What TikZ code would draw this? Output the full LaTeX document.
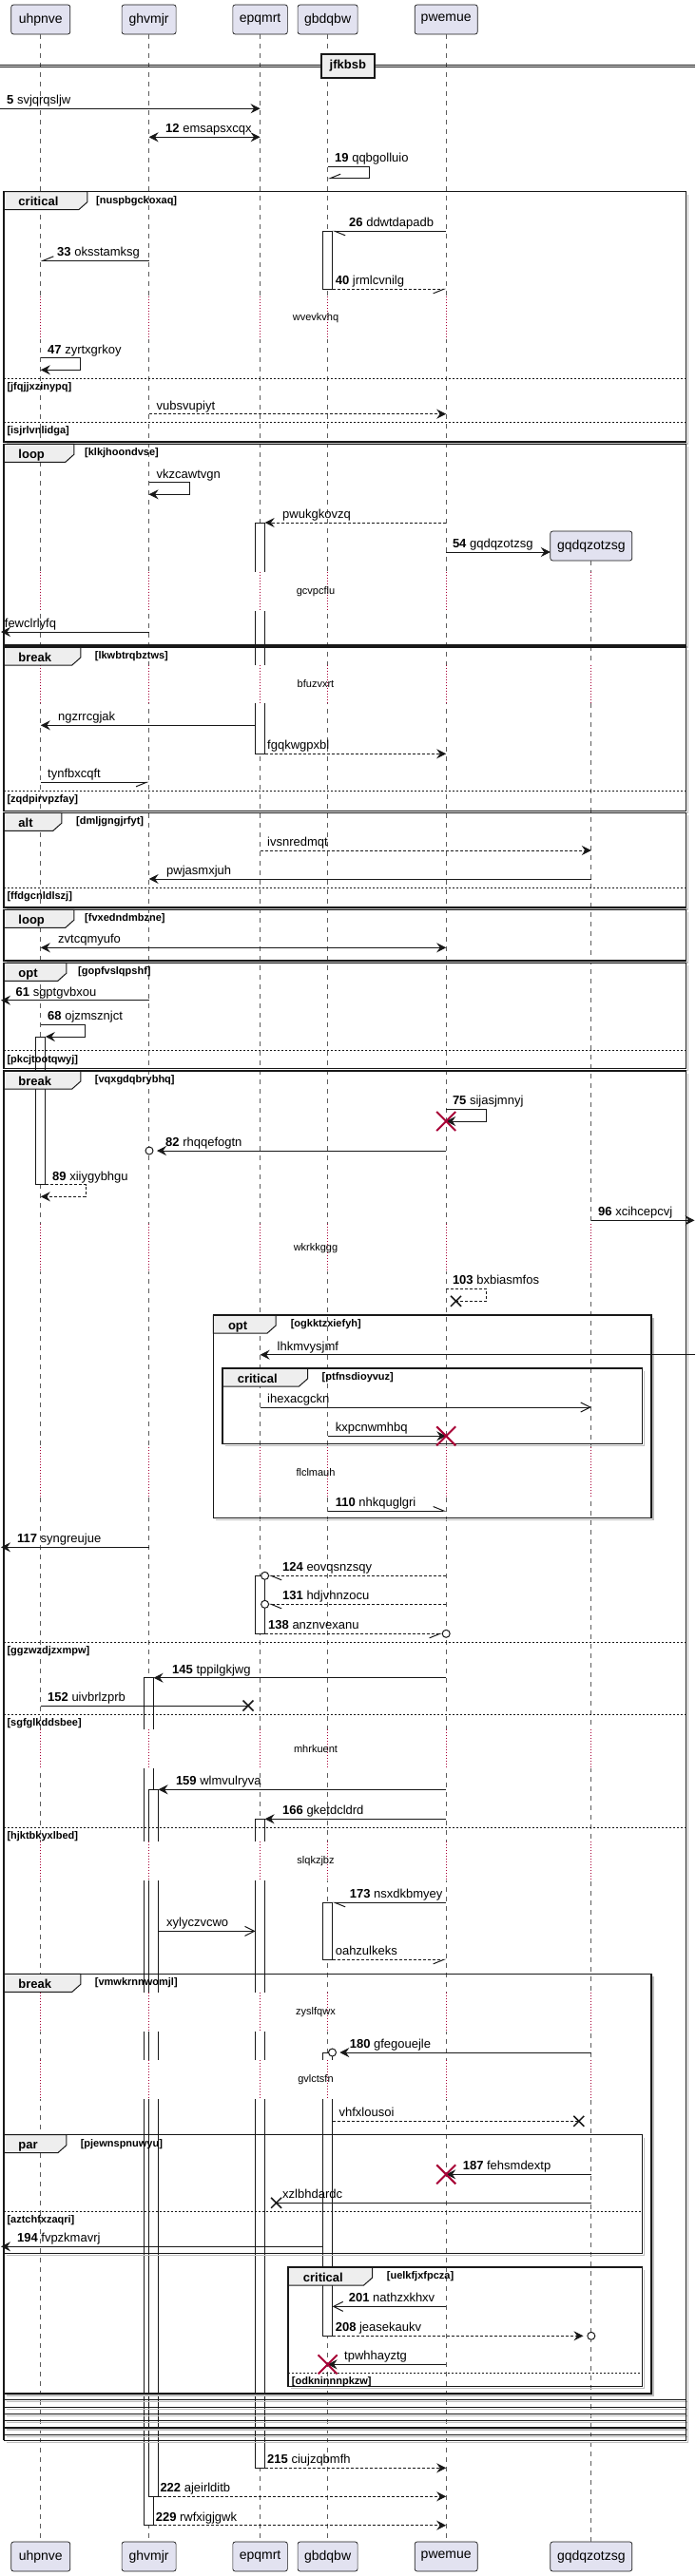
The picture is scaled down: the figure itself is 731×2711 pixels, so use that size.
\documentclass[tikz,border=0pt]{standalone}
\usepackage{fontspec}
\setmainfont{Liberation Sans}
\usetikzlibrary{arrows.meta}

\definecolor{partfill}{HTML}{E2E2F0}
\definecolor{ink}{HTML}{181818}
\definecolor{tabfill}{HTML}{EEEEEE}
\definecolor{deathred}{HTML}{A80036}

% lifeline positions
\def\xU{42.8}
\def\xG{156.6}
\def\xE{273.6}
\def\xB{344.6}
\def\xP{469.2}
\def\xQ{621.8}

\tikzset{
  participant/.style={draw=ink, fill=partfill, rounded corners=2.5pt, line width=0.7pt,
    minimum height=31pt, inner sep=0pt, font=\fontsize{14}{16}\selectfont},
  lifeline/.style={draw=ink!70, line width=0.7pt, dash pattern=on 5pt off 5pt},
  actbox/.style={draw=ink, fill=white, line width=0.8pt},
  delayline/.style={draw=deathred, line width=0.8pt, dash pattern=on 1pt off 2pt},
  delaytext/.style={font=\fontsize{11}{13}\selectfont, inner sep=0pt},
  msg/.style={draw=ink, line width=1pt},
  reply/.style={msg, dash pattern=on 3pt off 2pt},
  hd/.style={-{Stealth[length=10pt,width=10pt,inset=3.5pt]}},
  hdboth/.style={{Stealth[length=10pt,width=10pt,inset=3.5pt]}-{Stealth[length=10pt,width=10pt,inset=3.5pt]}},
  openhd/.style={-{Straight Barb[length=10pt,width=10pt]}},
  barbL/.style={-{Straight Barb[left,length=11pt,width=9pt]}},
  barbR/.style={-{Straight Barb[right,length=11pt,width=9pt]}},
  lbl/.style={font=\fontsize{13}{15}\selectfont, inner sep=0pt, anchor=base west},
  frameline/.style={draw=ink, line width=1.5pt},
  frameshadow/.style={draw=black!25, line width=1.5pt},
  tabbox/.style={draw=ink, fill=tabfill, line width=1pt},
  tablabel/.style={font=\bfseries\fontsize{13}{15}\selectfont, inner sep=0pt, anchor=base west},
  condtext/.style={font=\bfseries\fontsize{11}{13}\selectfont, inner sep=0pt, anchor=mid west},
  sepline/.style={draw=ink, line width=1pt, dash pattern=on 2pt off 2pt},
  lostmark/.style={draw=ink, line width=1.5pt},
  killmark/.style={draw=deathred, line width=2pt},
  endring/.style={draw=ink, line width=1pt, fill=white},
  divbox/.style={draw=ink, fill=tabfill, line width=1.5pt, minimum width=56pt,
    minimum height=25pt, inner sep=0pt, font=\bfseries\fontsize{13}{15}\selectfont},
}

\newcommand{\mlbl}[4]{\node[lbl] (#1) at (#2,#3-4.5) {#4};}
\newcommand{\actbar}[3]{\filldraw[actbox] (#1-5,#2) rectangle (#1+5,#3);}
\newcommand{\redx}[2]{\draw[killmark] (#1-10,#2-10) -- (#1+10,#2+10) (#1-10,#2+10) -- (#1+10,#2-10);}
\newcommand{\lostx}[2]{\draw[lostmark] (#1-5.5,#2-5.5) -- (#1+5.5,#2+5.5) (#1-5.5,#2+5.5) -- (#1+5.5,#2-5.5);}
\newcommand{\dlay}[5]{%
  \foreach \xx in {#5}{%
    \fill[white] (\xx-12,#2) rectangle (\xx+12,#3);
    \draw[delayline] (\xx,#2) -- (\xx,#3);}
  \node[delaytext] (#1) at (332,{(#2+#3)/2}) {#4};}
\newcommand{\grp}[9]{%
  \draw[frameshadow] (#4+2,#3+3) -- (#4+2,#5+2) -- (#2+3,#5+2);
  \filldraw[tabbox] (#2,#3) -- ++(#6,0) -- ++(0,11) -- ++(-9,8) -- (#2,#3+19) -- cycle;
  \draw[frameline] (#2,#3) rectangle (#4,#5);
  \node[tablabel] (#1) at (#2+15.5,#3+15) {#7};
  \node[condtext] (#1c) at (#8,#3+10) {#9};}
\newcommand{\grpsep}[5]{%
  \draw[sepline] (#2,#4) -- (#3,#4);
  \node[condtext] (#1) at (#2+3.5,#4+10) {#5};}

\begin{document}
\begin{tikzpicture}[x=1pt,y=-1pt]
\useasboundingbox (0,0) rectangle (731,2711);

% participants
\foreach \nm/\xx/\ww in {uhpnve/\xU/62pt, ghvmjr/\xG/57pt, epqmrt/\xE/57.5pt, gbdqbw/\xB/63pt, pwemue/\xP/66pt}{
  \node[participant, minimum width=\ww] (\nm) at (\xx,20.5) {\nm};
  \node[participant, minimum width=\ww] (\nm-b) at (\xx,2690.5) {\nm};
  \draw[lifeline] (\nm.south) -- (\nm-b.north);
}
\node[participant, minimum width=86pt] (gqdqzotzsg) at (\xQ,574.5) {gqdqzotzsg};
\node[participant, minimum width=86pt] (gqdqzotzsg-b) at (\xQ,2690.5) {gqdqzotzsg};
\draw[lifeline] (gqdqzotzsg.south) -- (gqdqzotzsg-b.north);

% activations
\actbar{\xB}{243.3}{304.3}
\actbar{\xE}{550}{793.3}
\actbar{\xU}{1091}{1246.7}
\actbar{\xE}{1658.3}{1719.3}
\actbar{\xG}{1765.7}{2657.7}
\actbar{\xG+5}{1883.3}{2627.3}
\actbar{\xE}{1914.3}{2597.3}
\actbar{\xB}{2002.3}{2062.3}
\actbar{\xB}{2160}{2458.3}

% delays
\dlay{dwve}{312}{357}{wvevkvhq}{\xU,\xG,\xE,\xB,\xP}
\dlay{dgcv}{601.7}{642.7}{gcvpcflu}{\xU,\xG,\xE,\xB,\xP,\xQ}
\dlay{dbfu}{699.5}{740}{bfuzvxrt}{\xU,\xG,\xE,\xB,\xP,\xQ}
\dlay{dwkr}{1288.3}{1338.3}{wkrkkggg}{\xU,\xG,\xE,\xB,\xP,\xQ}
\dlay{dflc}{1523.3}{1575}{flclmauh}{\xU,\xG,\xE,\xB,\xP,\xQ}
\dlay{dmhr}{1820}{1861}{mhrkuent}{\xU,\xG,\xE,\xB,\xP,\xQ}
\dlay{dslq}{1938.3}{1979}{slqkzjbz}{\xU,\xG,\xE,\xB,\xP,\xQ}
\dlay{dzys}{2096.7}{2138.3}{zyslfqwx}{\xU,\xG,\xE,\xB,\xP,\xQ}
\dlay{dgvl}{2168.3}{2209.3}{gvlctsfn}{\xU,\xG,\xE,\xB,\xP,\xQ}

% groups
\grp{gcrit}{3.8}{201.7}{721.7}{465}{88}{critical}{101}{[nuspbgckoxaq]}
\grpsep{sjfq}{3.8}{721.7}{398.3}{[jfqjjxzinypq]}
\grpsep{sisj}{3.8}{721.7}{444.3}{[isjrlvnlidga]}
\grp{gloopa}{3.8}{467.3}{721.7}{679}{74}{loop}{89}{[klkjhoondvse]}
\grp{gbreaka}{3.8}{681}{721.7}{853.3}{81}{break}{99.7}{[lkwbtrqbztws]}
\grpsep{szqd}{3.8}{721.7}{832.3}{[zqdpirvpzfay]}
\grp{galt}{3.8}{855.3}{721.7}{955}{61}{alt}{80}{[dmljgngjrfyt]}
\grpsep{sffd}{3.8}{721.7}{934}{[ffdgcnldlszj]}
\grp{gloopb}{3.8}{957.3}{721.7}{1011}{74}{loop}{89}{[fvxedndmbzne]}
\grp{gopta}{3.8}{1013.3}{721.7}{1124.5}{66}{opt}{82}{[gopfvslqpshf]}
\grpsep{spkc}{3.8}{721.7}{1105.7}{[pkcjtootqwyj]}
\grp{gbreakb}{3.8}{1127}{721.7}{2525.7}{81}{break}{99.7}{[vqxgdqbrybhq]}
\foreach \yy in {2533.3,2540.7,2547.7,2555,2562.3,2568.3}{
  \draw[frameshadow] (6.8,\yy+2) -- (723.7,\yy+2);
  \draw[frameline] (3.8,\yy) -- (721.7,\yy);
}
\draw[frameshadow] (723.7,2525.7) -- (723.7,2570.3);
\draw[frameline] (3.8,2525.7) -- (3.8,2568.3) (721.7,2525.7) -- (721.7,2568.3);
\grpsep{sggz}{3.8}{721.7}{1728.3}{[ggzwzdjzxmpw]}
\grpsep{ssgf}{3.8}{721.7}{1804.3}{[sgfglkddsbee]}
\grpsep{shjk}{3.8}{721.7}{1923.3}{[hjktbkyxlbed]}
\grp{goptb}{224.3}{1384}{685}{1597.7}{65.8}{opt}{305.6}{[ogkktzxiefyh]}
\grp{gcritb}{234.1}{1440}{675.6}{1519.3}{89.4}{critical}{338.5}{[ptfnsdioyvuz]}
\grp{gbreakc}{3.8}{2077.3}{685}{2519}{81}{break}{99.7}{[vmwkrnnwomjl]}
\grp{gpar}{3.8}{2246.7}{675.6}{2371.7}{66}{par}{84.6}{[pjewnspnuwyu]}
\grpsep{sazt}{3.8}{675.6}{2327.3}{[aztchfxzaqri]}
\grp{gcritc}{303.2}{2386}{675.6}{2511.7}{88.4}{critical}{406.7}{[uelkfjxfpcza]}
\grpsep{sodk}{303.2}{675.6}{2497.3}{[odkninnnpkzw]}

% divider
\draw[ink, line width=1pt] (0,68.3) -- (731,68.3) (0,71) -- (731,71);
\node[divbox] (jfkbsb) at (365.8,69.5) {jfkbsb};

% messages
\draw[msg,hd] (0,114.3) -- (\xE,114.3);
\mlbl{m5}{7}{114.3}{\textbf{5} svjqrqsljw}
\draw[msg,hdboth] (\xG,144.3) -- (\xE,144.3);
\mlbl{m12}{174}{144.3}{\textbf{12} emsapsxcqx}
\draw[msg,barbR] (\xB,175) -- (388,175) -- (388,187.7) -- (\xB,187.7);
\mlbl{m19}{352}{175}{\textbf{19} qqbgolluio}
\draw[msg,barbL] (\xP,243.3) -- (\xB+5,243.3);
\mlbl{m26}{367}{243.3}{\textbf{26} ddwtdapadb}
\draw[msg,barbR] (\xG,274.3) -- (\xU,274.3);
\mlbl{m33}{60}{274.3}{\textbf{33} oksstamksg}
\draw[reply,barbR] (\xB+5,304.3) -- (\xP,304.3);
\mlbl{m40}{352.6}{304.3}{\textbf{40} jrmlcvnilg}
\draw[msg,hd] (\xU,376.7) -- (84.6,376.7) -- (84.6,389.3) -- (\xU,389.3);
\mlbl{m47}{50}{376.7}{\textbf{47} zyrtxgrkoy}
\draw[reply,hd] (\xG,435.7) -- (\xP,435.7);
\mlbl{mvub}{164.5}{435.7}{vubsvupiyt}
\draw[msg,hd] (\xG,507.7) -- (199.3,507.7) -- (199.3,520.3) -- (\xG,520.3);
\mlbl{mvkz}{164.5}{507.7}{vkzcawtvgn}
\draw[reply,hd] (\xP,550) -- (\xE+5,550);
\mlbl{mpwu}{297}{550}{pwukgkovzq}
\draw[msg,hd] (\xP,581) -- (578.8,581);
\mlbl{m54}{475.8}{581}{\textbf{54} gqdqzotzsg}
\draw[msg,hd] (\xG,665) -- (1,665);
\mlbl{mfew}{4.7}{665}{fewclrlyfq}
\draw[msg,hd] (\xE-5,763.3) -- (\xU,763.3);
\mlbl{mngz}{61}{763.3}{ngzrrcgjak}
\draw[reply,hd] (\xE+5,793.3) -- (\xP,793.3);
\mlbl{mfgq}{281}{793.3}{fgqkwgpxbl}
\draw[msg,barbR] (\xU,823.3) -- (\xG,823.3);
\mlbl{mtyn}{50}{823.3}{tynfbxcqft}
\draw[reply,hd] (\xE,895) -- (\xQ,895);
\mlbl{mivs}{281}{895}{ivsnredmqt}
\draw[msg,hd] (\xQ,925) -- (\xG,925);
\mlbl{mpwj}{175}{925}{pwjasmxjuh}
\draw[msg,hdboth] (\xU,997.3) -- (\xP,997.3);
\mlbl{mzvt}{61}{997.3}{zvtcqmyufo}
\draw[msg,hd] (\xG,1052.7) -- (1,1052.7);
\mlbl{m61}{16.5}{1052.7}{\textbf{61} sgptgvbxou}
\draw[msg,hd] (\xU,1078.3) -- (89.3,1078.3) -- (89.3,1091) -- (\xU+5,1091);
\mlbl{m68}{50}{1078.3}{\textbf{68} ojzmsznjct}
\draw[msg,hd] (\xP,1167.3) -- (511.5,1167.3) -- (511.5,1180) -- (\xP,1180);
\redx{\xP}{1180}
\mlbl{m75}{475.8}{1167.3}{\textbf{75} sijasjmnyj}
\draw[msg,hd] (\xP,1211) -- (165,1211);
\draw[endring] (157,1211) circle (4pt);
\mlbl{m82}{174}{1211}{\textbf{82} rhqqefogtn}
\draw[reply,hd] (\xU+5,1246.7) -- (90.3,1246.7) -- (90.3,1259.3) -- (\xU,1259.3);
\mlbl{m89}{55}{1246.7}{\textbf{89} xiiygybhgu}
\draw[msg,hd] (\xQ,1284.3) -- (730.5,1284.3);
\mlbl{m96}{629}{1284.3}{\textbf{96} xcihcepcvj}
\draw[reply] (\xP,1356) -- (511.5,1356) -- (511.5,1369.3) -- (479.5,1369.3);
\lostx{479.5}{1369.3}
\mlbl{m103}{475.8}{1356}{\textbf{103} bxbiasmfos}
\draw[msg,hd] (731,1425.7) -- (\xE,1425.7);
\mlbl{mlhk}{291.5}{1425.7}{lhkmvysjmf}
\draw[msg,openhd] (\xE,1481) -- (\xQ,1481);
\mlbl{mihe}{281}{1481}{ihexacgckn}
\draw[msg,hd] (\xB,1511.3) -- (\xP,1511.3);
\redx{\xP}{1511.3}
\mlbl{mkxp}{352.6}{1511.3}{kxpcnwmhbq}
\draw[msg,barbL] (\xB,1590) -- (\xP,1590);
\mlbl{m110}{352.6}{1590}{\textbf{110} nhkquglgri}
\draw[msg,hd] (\xG,1628.3) -- (1,1628.3);
\mlbl{m117}{17.9}{1628.3}{\textbf{117} syngreujue}
\draw[reply,barbL] (\xP,1658.3) -- (282.6,1658.3);
\draw[endring] (\xE+5,1658.3) circle (4pt);
\mlbl{m124}{297}{1658.3}{\textbf{124} eovqsnzsqy}
\draw[reply,barbL] (\xP,1688.3) -- (282.6,1688.3);
\draw[endring] (\xE+5,1688.3) circle (4pt);
\mlbl{m131}{297}{1688.3}{\textbf{131} hdjvhnzocu}
\draw[reply,barbR] (\xE+5,1719.3) -- (\xP-4,1719.3);
\draw[endring] (\xP,1719.3) circle (4pt);
\mlbl{m138}{282}{1719.3}{\textbf{138} anznvexanu}
\draw[msg,hd] (\xP,1765.7) -- (\xG+5,1765.7);
\mlbl{m145}{181}{1765.7}{\textbf{145} tppilgkjwg}
\draw[msg] (\xU,1795) -- (261,1795);
\lostx{261}{1795}
\mlbl{m152}{50}{1795}{\textbf{152} uivbrlzprb}
\draw[msg,hd] (\xP,1883.3) -- (\xG+10,1883.3);
\mlbl{m159}{184.8}{1883.3}{\textbf{159} wlmvulryva}
\draw[msg,hd] (\xP,1914.3) -- (\xE+5,1914.3);
\mlbl{m166}{297}{1914.3}{\textbf{166} gketdcldrd}
\draw[msg,barbL] (\xP,2002.3) -- (\xB+5,2002.3);
\mlbl{m173}{367.6}{2002.3}{\textbf{173} nsxdkbmyey}
\draw[msg,openhd] (\xG+10,2032.3) -- (\xE-5,2032.3);
\mlbl{mxyl}{175}{2032.3}{xylyczvcwo}
\draw[reply,barbR] (\xB+5,2062.3) -- (\xP,2062.3);
\mlbl{moah}{352.6}{2062.3}{oahzulkeks}
\draw[msg,hd] (\xQ,2160) -- (357.3,2160);
\draw[endring] (349.5,2160) circle (4pt);
\mlbl{m180}{367.6}{2160}{\textbf{180} gfegouejle}
\draw[reply] (\xB+5,2232.3) -- (608.8,2232.3);
\lostx{608.8}{2232.3}
\mlbl{mvhf}{356.4}{2232.3}{vhfxlousoi}
\draw[msg,hd] (\xQ,2288.3) -- (\xP,2288.3);
\redx{\xP}{2288.3}
\mlbl{m187}{486.6}{2288.3}{\textbf{187} fehsmdextp}
\draw[msg] (\xQ,2318.3) -- (290.6,2318.3);
\lostx{290.6}{2318.3}
\mlbl{mxzl}{297}{2318.3}{xzlbhdardc}
\draw[msg,hd] (\xB-5,2364.3) -- (1,2364.3);
\mlbl{m194}{17.9}{2364.3}{\textbf{194} fvpzkmavrj}
\draw[msg,openhd] (\xP,2427.3) -- (\xB+5,2427.3);
\mlbl{m201}{366.7}{2427.3}{\textbf{201} nathzxkhxv}
\draw[reply,hd] (\xB+5,2458.3) -- (613.5,2458.3);
\draw[endring] (\xQ,2458.3) circle (4pt);
\mlbl{m208}{352.6}{2458.3}{\textbf{208} jeasekaukv}
\draw[msg,hd] (\xP,2488.3) -- (\xB,2488.3);
\redx{\xB}{2488.3}
\mlbl{mtpw}{362}{2488.3}{tpwhhayztg}
\draw[reply,hd] (\xE+5,2597.3) -- (\xP,2597.3);
\mlbl{m215}{281}{2597.3}{\textbf{215} ciujzqbmfh}
\draw[reply,hd] (\xG+10,2627.3) -- (\xP,2627.3);
\mlbl{m222}{168.3}{2627.3}{\textbf{222} ajeirlditb}
\draw[reply,hd] (\xG+5,2657.7) -- (\xP,2657.7);
\mlbl{m229}{163.6}{2657.7}{\textbf{229} rwfxigjgwk}

\end{tikzpicture}
\end{document}
